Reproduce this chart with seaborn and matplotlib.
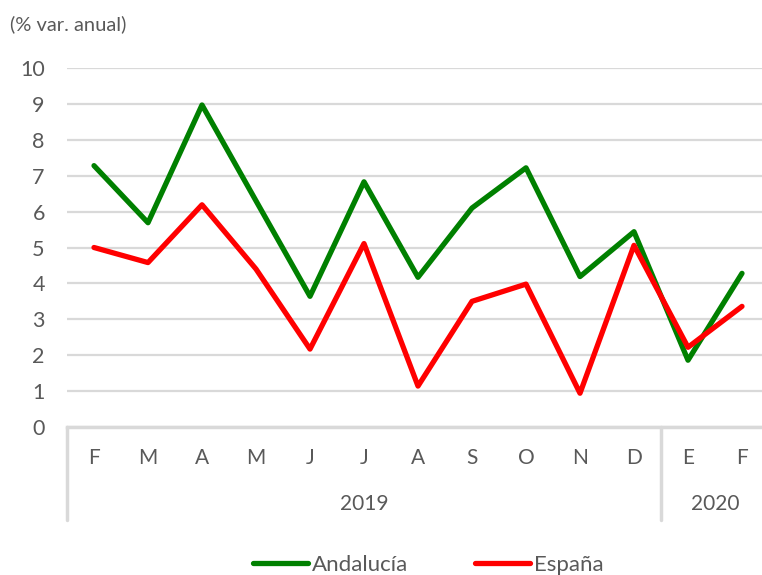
import matplotlib
matplotlib.use("Agg")
import matplotlib.pyplot as plt
import matplotlib.transforms as mtrans
import numpy as np
import pandas as pd
import seaborn as sns

# data
months = ["F", "M", "A", "M", "J", "J", "A", "S", "O", "N", "D", "E", "F"]
years = ["2019"] * 11 + ["2020"] * 2
andalucia = [7.28, 5.69, 8.97, 6.3, 3.64, 6.83, 4.17, 6.1, 7.22, 4.19, 5.44, 1.86, 4.28]
espana = [5.0, 4.58, 6.19, 4.4, 2.17, 5.11, 1.14, 3.5, 3.98, 0.94, 5.06, 2.22, 3.36]

df = pd.DataFrame({
    "pos": list(range(len(months))) * 2,
    "valor": andalucia + espana,
    "serie": ["Andalucía"] * len(months) + ["España"] * len(months),
})

sns.set_theme(style="white")
plt.rcParams["font.family"] = ["Lato", "DejaVu Sans"]
gray = "#595959"
gridc = "#d9d9d9"

W, H = 762, 575
fig = plt.figure(figsize=(W / 100, H / 100), dpi=100)
x0, x1 = 67, 769
y_top, y_bot = 68, 427
ax = fig.add_axes([x0 / W, 1 - y_bot / H, (x1 - x0) / W, (y_bot - y_top) / H])

sns.lineplot(data=df, x="pos", y="valor", hue="serie",
             palette={"Andalucía": "#008000", "España": "#ff0000"},
             linewidth=3.8, ax=ax, legend=True, zorder=3)

ax.set_xlim(-0.5, len(months) - 0.5)
ax.set_ylim(0, 10)
ax.set_yticks(range(0, 11))
ax.yaxis.grid(True, color=gridc, linewidth=1.6)
ax.set_axisbelow(True)
for s in ["left", "right", "top"]:
    ax.spines[s].set_visible(False)
ax.spines["bottom"].set_color(gridc)
ax.spines["bottom"].set_linewidth(2.5)
ax.set_xticks([])
ax.set_xlabel("")
ax.set_ylabel("")
ax.tick_params(axis="y", length=0, pad=16, labelsize=15.5, labelcolor=gray)

# month and year labels below the axis
trans = mtrans.blended_transform_factory(ax.transData, ax.transAxes)
h_ax = (y_bot - y_top)
def ay(py):
    return -(py - y_bot) / h_ax

for i, m in enumerate(months):
    ax.text(i, ay(458), m, transform=trans, ha="center", va="center",
            fontsize=15, color=gray)

# year groups
groups = []
for i, yv in enumerate(years):
    if not groups or groups[-1][0] != yv:
        groups.append([yv, i, i])
    else:
        groups[-1][2] = i
for yv, a, b in groups:
    ax.text((a + b) / 2, ay(504), yv, transform=trans, ha="center", va="center",
            fontsize=15, color=gray)
    ax.plot([a - 0.5, a - 0.5], [0, ay(520)], transform=trans, color=gridc,
            linewidth=2.5, clip_on=False)

ax.legend_.remove()
handles, labels = ax.get_legend_handles_labels()
leg = fig.legend(handles, labels, loc="center", bbox_to_anchor=(428 / W, 1 - 565 / H),
                 ncol=2, frameon=False, fontsize=16, handlelength=2.5,
                 handletextpad=0.15, columnspacing=3.0)
for t in leg.get_texts():
    t.set_color(gray)
for l in leg.get_lines():
    l.set_linewidth(3.8)

fig.text(10 / W, 1 - 24 / H, "(% var. anual)", ha="left", va="center",
         fontsize=14.5, color=gray)

fig.savefig("out.png", dpi=100)
